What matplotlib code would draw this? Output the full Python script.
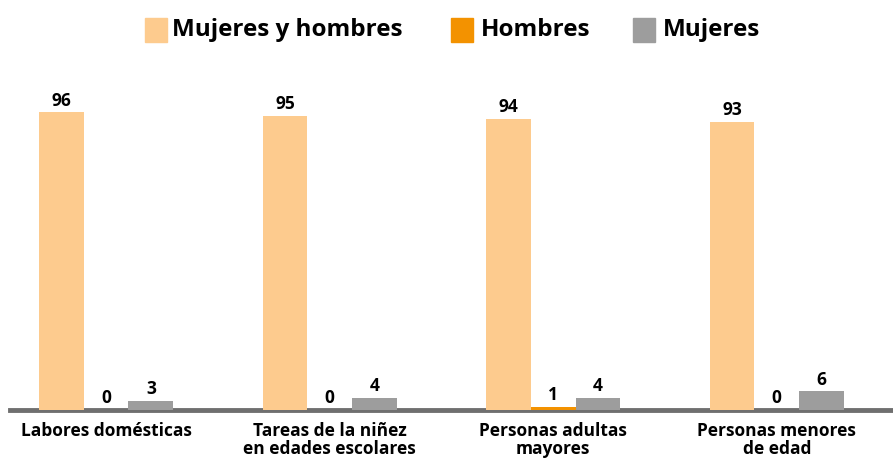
import numpy as np
import matplotlib.pyplot as plt
from matplotlib.patches import Rectangle

# data
categories = ['Labores domésticas', 'Tareas de la niñez\nen edades escolares',
              'Personas adultas\nmayores', 'Personas menores\nde edad']
ambos = [96, 95, 94, 93]
hombres = [0, 0, 1, 0]
mujeres = [3, 4, 4, 6]
series_names = ['Mujeres y hombres', 'Hombres', 'Mujeres']
colors = ['#FDCB8E', '#F39200', '#9D9D9D']

plt.rcParams['font.family'] = ['Open Sans', 'DejaVu Sans']
plt.rcParams['font.weight'] = 'bold'

W, H = 893, 458
fig = plt.figure(figsize=(W / 100, H / 100), dpi=100)
ax = fig.add_axes([10 / W, 48 / H, 883 / W, 341 / H])

x = np.arange(len(categories))
w = 0.2
for k, vals in enumerate([ambos, hombres, mujeres]):
    pos = x + (k - 1) * w
    ax.bar(pos, vals, width=w, color=colors[k], zorder=2)
    for p, v in zip(pos, vals):
        ax.annotate(str(v), (p, v), xytext=(0, 2), textcoords='offset points',
                    ha='center', va='bottom', fontsize=12.5, fontweight='bold')

ax.set_xlim(-0.43, 3.52)
ax.set_ylim(0, 110)
for s in ['top', 'right', 'left']:
    ax.spines[s].set_visible(False)
ax.spines['bottom'].set_color('#6F6F6F')
ax.spines['bottom'].set_linewidth(3.5)
ax.spines['bottom'].set_zorder(1)
ax.set_yticks([])
ax.set_xticks(x)
ax.set_xticklabels(categories, fontsize=12.5, fontweight='bold', linespacing=0.95)
ax.tick_params(axis='x', length=0, pad=9)

# legend drawn by hand
leg = [(145, 172), (451, 481), (633, 663)]
for (sx, tx), name, c in zip(leg, series_names, colors):
    fig.patches.append(Rectangle((sx / W, 1 - 42 / H), 22 / W, 24 / H,
                                 transform=fig.transFigure, color=c))
    fig.text(tx / W, 1 - 30 / H, name, fontsize=17.5, fontweight='bold',
             va='center', ha='left')

fig.savefig('out.png', dpi=100)
